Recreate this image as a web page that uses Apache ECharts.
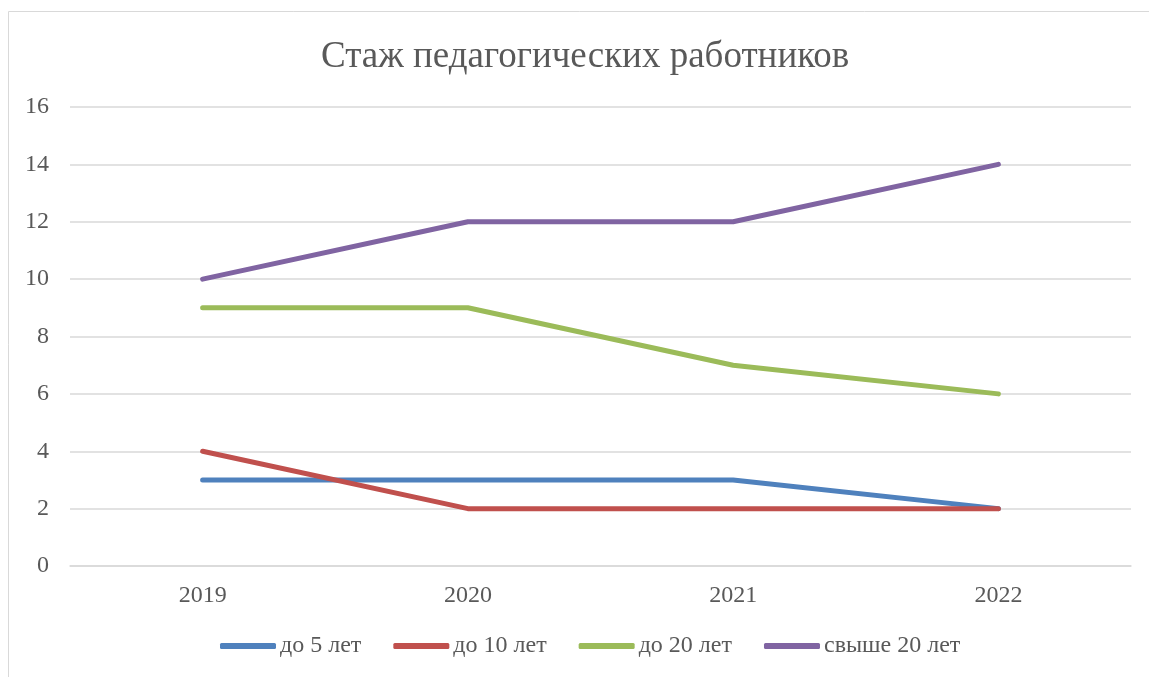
<!DOCTYPE html>
<html><head><meta charset="utf-8">
<script src="https://cdn.jsdelivr.net/npm/echarts@6/dist/echarts.min.js"></script>
<style>html,body{margin:0;padding:0;background:#fff}#c{width:1149px;height:677px}</style>
</head><body><div id="c"></div>
<script>
const titleText = 'Стаж педагогических работников';
const categories = ['2019', '2020', '2021', '2022'];
const seriesNames = ['до 5 лет', 'до 10 лет', 'до 20 лет', 'свыше 20 лет'];
const s1 = [3, 3, 3, 2];
const s2 = [4, 2, 2, 2];
const s3 = [9, 9, 7, 6];
const s4 = [10, 12, 12, 14];
const colors = ['#4F81BD', '#C0504D', '#9BBB59', '#8064A2'];
const yTicks = {min: 0, max: 16, interval: 2};

const font = '"Liberation Serif", "Times New Roman", serif';
const chart = echarts.init(document.getElementById('c'));
const data = [s1, s2, s3, s4];
chart.setOption({
  animation: false,
  color: colors,
  graphic: [{type: 'rect', shape: {x: 8.5, y: 11.5, width: 1200, height: 700},
    style: {fill: 'none', stroke: '#d9d9d9', lineWidth: 1}, z: -1}],
  title: {text: titleText, left: 316, top: 34,
    textStyle: {fontFamily: font, fontSize: 37, fontWeight: 'normal', color: '#595959'}},
  grid: {left: 70, right: 18, top: 107, bottom: 111, containLabel: false},
  legend: {top: 629, left: 215, itemWidth: 56, itemHeight: 6, itemGap: 32,
    icon: 'roundRect',
    textStyle: {fontFamily: font, fontSize: 24, color: '#595959', padding: [0, 0, 0, -1]},
    data: seriesNames},
  xAxis: {type: 'category', data: categories, boundaryGap: true,
    axisLine: {show: true, lineStyle: {color: '#d9d9d9', width: 1.5}},
    axisTick: {show: false},
    axisLabel: {fontFamily: font, fontSize: 24, color: '#595959', margin: 18}},
  yAxis: {type: 'value', min: yTicks.min, max: yTicks.max, interval: yTicks.interval,
    axisLine: {show: false}, axisTick: {show: false},
    axisLabel: {fontFamily: font, fontSize: 24, color: '#595959', margin: 21},
    splitLine: {lineStyle: {color: '#d9d9d9', width: 1.5}}},
  series: seriesNames.map((n, i) => ({
    name: n, type: 'line', data: data[i], symbol: 'none',
    lineStyle: {width: 5, color: colors[i], cap: 'round', join: 'round'},
    itemStyle: {color: colors[i]}
  }))
});
</script></body></html>
